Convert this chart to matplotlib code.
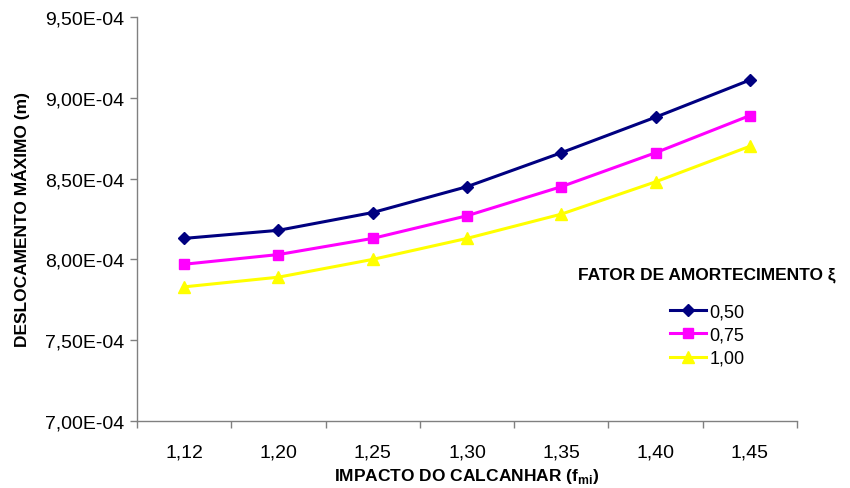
import matplotlib
matplotlib.use("Agg")
import matplotlib.pyplot as plt
from matplotlib.ticker import FuncFormatter, FixedLocator

plt.rcParams['font.family'] = ['Liberation Sans', 'DejaVu Sans']

categories = ["1,12", "1,20", "1,25", "1,30", "1,35", "1,40", "1,45"]
serie_050 = [8.13e-4, 8.18e-4, 8.29e-4, 8.45e-4, 8.66e-4, 8.88e-4, 9.11e-4]
serie_075 = [7.97e-4, 8.03e-4, 8.13e-4, 8.27e-4, 8.45e-4, 8.66e-4, 8.89e-4]
serie_100 = [7.83e-4, 7.89e-4, 8.00e-4, 8.13e-4, 8.28e-4, 8.48e-4, 8.70e-4]
series_labels = ["0,50", "0,75", "1,00"]

fig = plt.figure(figsize=(8.5, 4.89), dpi=100)
ax = fig.add_axes([137/850, 1-422/489, (797-137)/850, (422-18)/489])

x = list(range(len(categories)))
ax.plot(x, serie_050, color='#000080', lw=2.2, marker='D', ms=6.5, label=series_labels[0])
ax.plot(x, serie_075, color='#FF00FF', lw=2.2, marker='s', ms=7.5, label=series_labels[1])
ax.plot(x, serie_100, color='#FFFF00', lw=2.2, marker='^', ms=8, label=series_labels[2])

ax.set_xlim(-0.5, len(categories) - 0.5)
ax.set_ylim(7.0e-4, 9.5e-4)
ax.set_yticks([7.0e-4, 7.5e-4, 8.0e-4, 8.5e-4, 9.0e-4, 9.5e-4])
ax.yaxis.set_major_formatter(FuncFormatter(lambda v, p: f"{v:.2E}".replace('.', ',')))

ax.xaxis.set_major_locator(FixedLocator([i - 0.5 for i in range(len(categories) + 1)]))
ax.xaxis.set_major_formatter(FuncFormatter(lambda v, p: ""))
ax.xaxis.set_minor_locator(FixedLocator(x))
ax.set_xticklabels(categories, minor=True)
ax.tick_params(axis='x', which='minor', length=0, pad=16, labelsize=14)
ax.tick_params(axis='x', which='major', length=5, width=1, color='#808080')
ax.tick_params(axis='y', length=5, width=1, color='#808080', labelsize=14, pad=4)

for s in ['top', 'right']:
    ax.spines[s].set_visible(False)
for s in ['left', 'bottom']:
    ax.spines[s].set_color('#808080')
    ax.spines[s].set_linewidth(1)

ax.set_xlabel("IMPACTO DO CALCANHAR (f$_{\\mathregular{mi}}$)", fontsize=12.5, fontweight='bold', labelpad=4)
ax.set_ylabel("DESLOCAMENTO MÁXIMO (m)", fontsize=12.5, fontweight='bold', labelpad=11)

leg = ax.legend(title="FATOR DE AMORTECIMENTO ξ", frameon=False, fontsize=13,
                title_fontproperties={'weight': 'bold', 'size': 12.5},
                loc='center', bbox_to_anchor=(707/850, 1-318/489), bbox_transform=fig.transFigure,
                handlelength=2.0, handletextpad=0.2, labelspacing=0.35)
leg._legend_box.sep = 15

fig.savefig("out.png", dpi=100, facecolor='white')
